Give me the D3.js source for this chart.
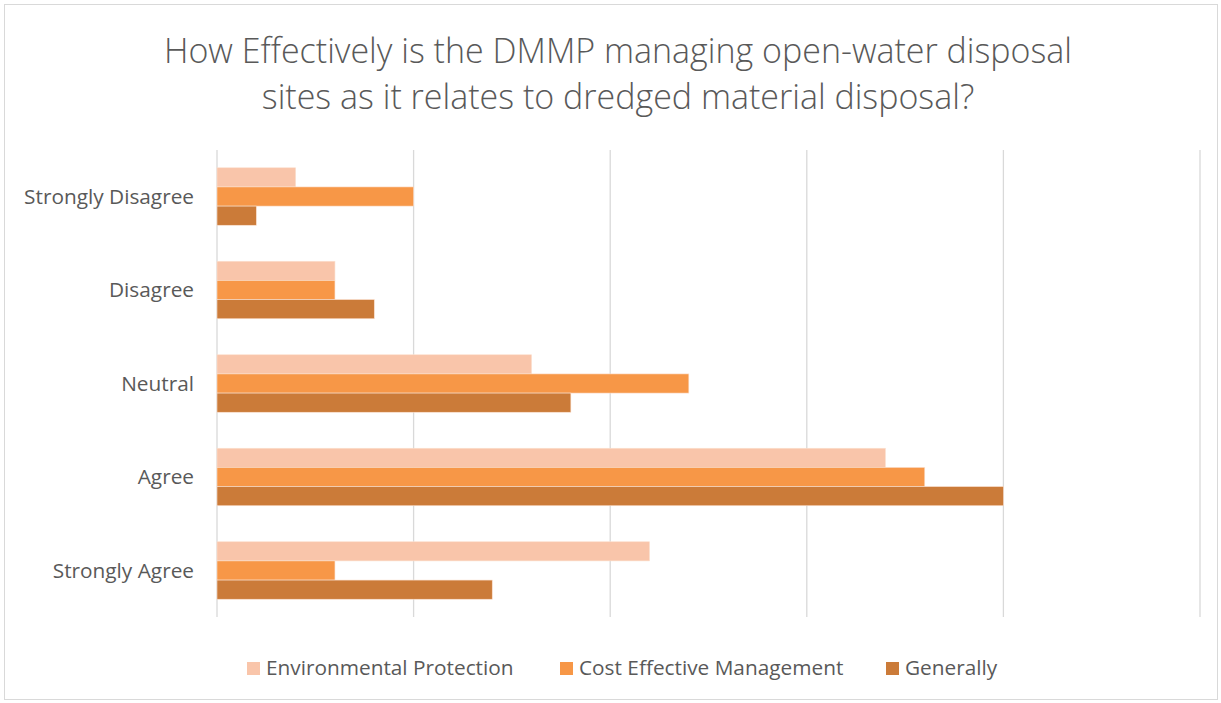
<!DOCTYPE html>
<html><head><meta charset="utf-8">
<script src="https://cdn.jsdelivr.net/npm/d3@7"></script>
<style>body{margin:0;background:#fff;} text{font-family:"Open Sans",sans-serif;}</style>
</head><body>
<svg id="c" width="1221" height="703"></svg>
<script>
const categories = ["Strongly Disagree","Disagree","Neutral","Agree","Strongly Agree"];
const seriesNames = ["Environmental Protection","Cost Effective Management","Generally"];
const envValues = [2,3,8,17,11];
const costValues = [5,3,12,18,3];
const generallyValues = [1,4,9,20,7];
const xTicks = [0,5,10,15,20,25];
const colors = ["#F9C5AA","#F79747","#CB7B39"];
const titleLines = ["How Effectively is the DMMP managing open-water disposal","sites as it relates to dredged material disposal?"];

const seriesValues = [envValues, costValues, generallyValues];
const svg = d3.select("#c");
svg.append("rect").attr("x",4.5).attr("y",4.5).attr("width",1213).attr("height",695)
  .attr("fill","#fff").attr("stroke","#d9d9d9");

const x = d3.scaleLinear().domain([0,25]).range([217,1200]);
const y = d3.scaleBand().domain(categories).range([150,617]).paddingInner(0.385).paddingOuter(0.19);
const ys = d3.scaleBand().domain(seriesNames).range([0,y.bandwidth()]);

svg.append("g").selectAll("line").data(xTicks).join("line")
  .attr("x1",d=>x(d)).attr("x2",d=>x(d)).attr("y1",150).attr("y2",617)
  .attr("stroke","#d9d9d9").attr("stroke-width",1.3);

seriesNames.forEach((s,i)=>{
  svg.append("g").selectAll("rect").data(categories).join("rect")
    .attr("x",x(0)).attr("y",c=>y(c)+ys(s))
    .attr("width",(c,j)=>x(seriesValues[i][j])-x(0))
    .attr("height",ys.bandwidth())
    .attr("fill",colors[i]).attr("stroke","#fbe0cf").attr("stroke-width",0.6);
});

svg.append("g").selectAll("text").data(categories).join("text")
  .attr("x",194).attr("y",c=>y(c)+y.bandwidth()/2).attr("dy","0.35em")
  .attr("text-anchor","end").attr("font-size",20.8).attr("fill","#595959").text(d=>d);

svg.append("g").selectAll("text").data(titleLines).join("text")
  .attr("x",618).attr("y",(d,i)=>63+i*46).attr("text-anchor","middle")
  .attr("font-size",34).attr("font-weight",300).attr("fill","#595959").text(d=>d);

const legX = [247,560,886];
const lg = svg.append("g").selectAll("g").data(seriesNames).join("g")
  .attr("transform",(d,i)=>`translate(${legX[i]},662)`);
lg.append("rect").attr("width",13).attr("height",13).attr("fill",(d,i)=>colors[i]);
lg.append("text").attr("x",19).attr("y",13).attr("font-size",20.8).attr("fill","#595959").text(d=>d);
</script>
</body></html>
